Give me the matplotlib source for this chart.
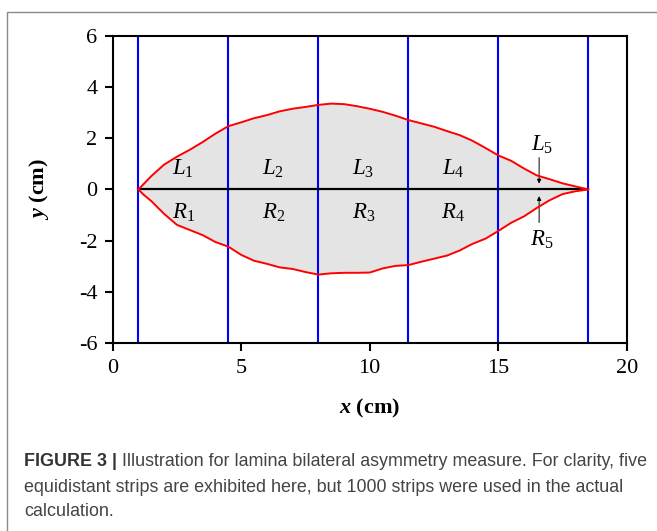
import matplotlib
matplotlib.use("Agg")
import matplotlib.pyplot as plt
from matplotlib.patches import Rectangle

# leaf outline, upper (left) side
x_up = [1.0, 1.5, 2.0, 2.5, 3.0, 3.5, 4.0, 4.5, 5.0, 5.5, 6.0, 6.5, 7.0, 7.5, 8.0, 8.5,
        9.0, 9.5, 10.0, 10.5, 11.0, 11.5, 12.0, 12.5, 13.0, 13.5, 14.0, 14.5, 15.0,
        15.5, 16.0, 16.5, 17.0, 17.5, 18.0, 18.5]
y_up = [0.0, 0.52, 0.97, 1.28, 1.55, 1.85, 2.18, 2.47, 2.62, 2.78, 2.90, 3.05, 3.15, 3.22,
        3.30, 3.35, 3.33, 3.25, 3.15, 3.03, 2.88, 2.71, 2.58, 2.45, 2.28, 2.12, 1.90, 1.62,
        1.33, 1.12, 0.82, 0.55, 0.40, 0.24, 0.12, 0.0]
# lower (right) side
x_lo = [1.0, 1.2, 1.5, 2.0, 2.5, 3.0, 3.5, 4.0, 4.5, 5.0, 5.5, 6.0, 6.5, 7.0, 7.5, 8.0,
        8.5, 9.0, 9.5, 10.0, 10.5, 11.0, 11.5, 12.0, 12.5, 13.0, 13.5, 14.0, 14.5, 15.0,
        15.5, 16.0, 16.5, 17.0, 17.5, 18.0, 18.5]
y_lo = [0.0, -0.2, -0.45, -0.95, -1.38, -1.58, -1.78, -2.05, -2.23, -2.55, -2.78, -2.90,
        -3.04, -3.10, -3.22, -3.32, -3.27, -3.25, -3.25, -3.24, -3.08, -2.98, -2.95, -2.82,
        -2.70, -2.58, -2.38, -2.12, -1.92, -1.62, -1.30, -1.05, -0.72, -0.42, -0.18, -0.07, 0.0]

strips = [1.0, 4.5, 8.0, 11.5, 15.0, 18.5]
l_labels = ["$L_1$", "$L_2$", "$L_3$", "$L_4$"]
r_labels = ["$R_1$", "$R_2$", "$R_3$", "$R_4$"]

plt.rcParams["font.family"] = "Liberation Serif"
plt.rcParams["axes.unicode_minus"] = False
plt.rcParams["mathtext.fontset"] = "custom"
plt.rcParams["mathtext.rm"] = "Liberation Serif"
plt.rcParams["mathtext.it"] = "Liberation Serif:italic"
plt.rcParams["mathtext.bf"] = "Liberation Serif:bold"
plt.rcParams["mathtext.bfit"] = "Liberation Serif:bold:italic"

fig = plt.figure(figsize=(6.57, 5.31), dpi=100)
ax = fig.add_axes([0.1715, 0.3535, 0.7825, 0.5793])

# fill the leaf
ax.fill(x_up + x_lo[::-1], y_up + y_lo[::-1], color="#e4e4e4", lw=0, zorder=1)
for s in strips:
    ax.axvline(s, color="#0000ff", lw=1.5, zorder=2)
ax.plot([strips[0], strips[-1]], [0, 0], color="black", lw=1.6, zorder=3)
ax.plot(x_up, y_up, color="#ff0000", lw=1.4, zorder=4)
ax.plot(x_lo, y_lo, color="#ff0000", lw=1.4, zorder=4)

for i in range(4):
    xc = (strips[i] + strips[i + 1]) / 2
    ax.text(xc, 0.8, l_labels[i], ha="center", va="center", fontsize=16.5, zorder=5)
    ax.text(xc, -0.9, r_labels[i], ha="center", va="center", fontsize=16.5, zorder=5)

# last strip, too thin to hold its labels
ax.text(16.7, 1.75, "$L_5$", ha="center", va="center", fontsize=16.5)
ax.text(16.7, -1.95, "$R_5$", ha="center", va="center", fontsize=16.5)
ax.annotate("", xy=(16.59, 0.12), xytext=(16.59, 1.35),
            arrowprops=dict(arrowstyle="-|>", color="black", lw=0.7,
                            mutation_scale=6))
ax.annotate("", xy=(16.59, -0.15), xytext=(16.59, -1.4),
            arrowprops=dict(arrowstyle="-|>", color="black", lw=0.7,
                            mutation_scale=6))

ax.set_xlim(0, 20)
ax.set_ylim(-6, 6)
ax.set_xticks([0, 5, 10, 15, 20])
ax.set_yticks([-6, -4, -2, 0, 2, 4, 6])
for sp in ax.spines.values():
    sp.set_linewidth(1.5)
ax.tick_params(direction="out", length=6, width=1.5, labelsize=16, pad=5)
ax.set_xlabel(r"$\mathbfit{x}$ (cm)", fontsize=16, fontweight="bold", labelpad=14)
ax.set_ylabel(r"$\mathbfit{y}$ (cm)", fontsize=16, fontweight="bold", labelpad=20)

# frame around the whole figure
fig.patches.append(Rectangle((7 / 657, -0.2), 1.2, 1.2 + (531 - 12) / 531 - 1.0,
                             transform=fig.transFigure, fill=False,
                             edgecolor="#8a8a8a", lw=1.0))

# caption
cfam = "Liberation Sans"
csize = 12.9
t1 = fig.text(24 / 657, 1 - 462 / 531, "FIGURE 3 |", fontsize=csize, fontweight="bold",
              family=cfam, color="#333333", va="center")
ax.annotate(" Illustration for lamina bilateral asymmetry measure. For clarity, five",
            xy=(1, 0.5), xycoords=t1, va="center", ha="left", fontsize=csize,
            family=cfam, color="#444444", annotation_clip=False)
fig.text(24 / 657, 1 - 487 / 531,
         "equidistant strips are exhibited here, but 1000 strips were used in the actual",
         fontsize=csize, family=cfam, color="#444444", va="center")
fig.text(24 / 657, 1 - 511 / 531, "calculation.", fontsize=csize, family=cfam,
         color="#444444", va="center")

fig.savefig("out.png", dpi=100)
